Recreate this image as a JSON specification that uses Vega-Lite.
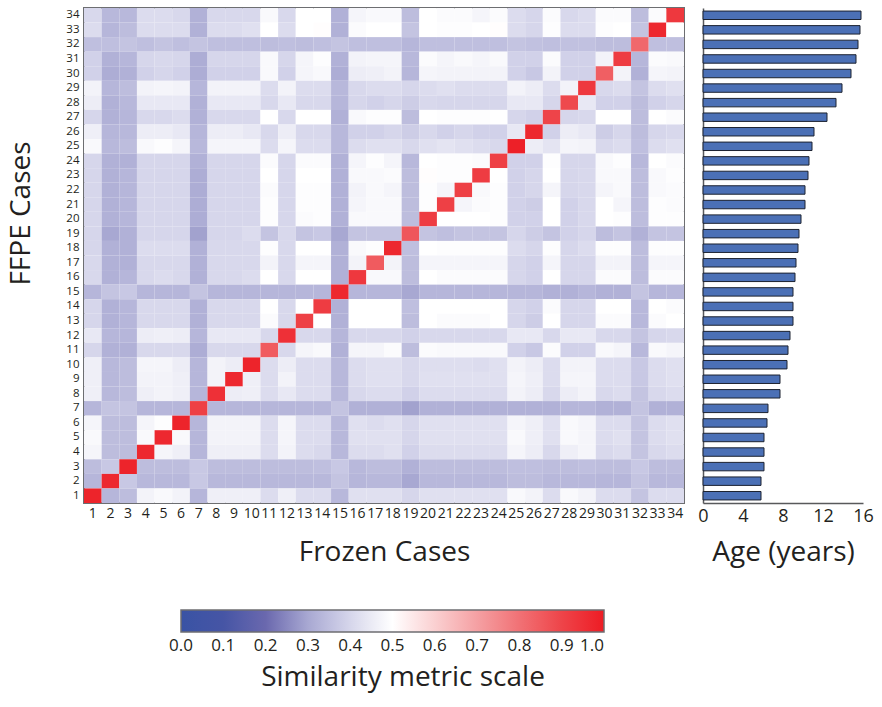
{
"$schema": "https://vega.github.io/schema/vega-lite/v6.json",
"background": "white",
"padding": {"left": 6, "top": 7, "right": 5, "bottom": 5},
"config": {
  "font": "Open Sans",
  "view": {"stroke": null},
  "axis": {"labelFont": "Open Sans", "titleFont": "Open Sans", "labelColor": "#231f20", "titleColor": "#231f20", "titleFontWeight": "normal"},
  "legend": {"labelFont": "Open Sans", "titleFont": "Open Sans", "labelColor": "#231f20", "titleColor": "#231f20"}
},
"datasets": {
"sim": [
{"r":34,"c":1,"v":0.405},{"r":34,"c":2,"v":0.335},{"r":34,"c":3,"v":0.335},{"r":34,"c":4,"v":0.415},{"r":34,"c":5,"v":0.415},{"r":34,"c":6,"v":0.405},{"r":34,"c":7,"v":0.32},{"r":34,"c":8,"v":0.405},{"r":34,"c":9,"v":0.405},{"r":34,"c":10,"v":0.405},{"r":34,"c":11,"v":0.485},{"r":34,"c":12,"v":0.405},{"r":34,"c":13,"v":0.5},{"r":34,"c":14,"v":0.5},{"r":34,"c":15,"v":0.32},{"r":34,"c":16,"v":0.475},{"r":34,"c":17,"v":0.485},{"r":34,"c":18,"v":0.485},{"r":34,"c":19,"v":0.345},{"r":34,"c":20,"v":0.5},{"r":34,"c":21,"v":0.49},{"r":34,"c":22,"v":0.49},{"r":34,"c":23,"v":0.475},{"r":34,"c":24,"v":0.49},{"r":34,"c":25,"v":0.415},{"r":34,"c":26,"v":0.4},{"r":34,"c":27,"v":0.49},{"r":34,"c":28,"v":0.405},{"r":34,"c":29,"v":0.415},{"r":34,"c":30,"v":0.49},{"r":34,"c":31,"v":0.49},{"r":34,"c":32,"v":0.345},{"r":34,"c":33,"v":0.49},{"r":34,"c":34,"v":0.93},
{"r":33,"c":1,"v":0.415},{"r":33,"c":2,"v":0.33},{"r":33,"c":3,"v":0.345},{"r":33,"c":4,"v":0.415},{"r":33,"c":5,"v":0.415},{"r":33,"c":6,"v":0.415},{"r":33,"c":7,"v":0.32},{"r":33,"c":8,"v":0.415},{"r":33,"c":9,"v":0.415},{"r":33,"c":10,"v":0.425},{"r":33,"c":11,"v":0.5},{"r":33,"c":12,"v":0.415},{"r":33,"c":13,"v":0.5},{"r":33,"c":14,"v":0.505},{"r":33,"c":15,"v":0.32},{"r":33,"c":16,"v":0.49},{"r":33,"c":17,"v":0.5},{"r":33,"c":18,"v":0.5},{"r":33,"c":19,"v":0.36},{"r":33,"c":20,"v":0.5},{"r":33,"c":21,"v":0.495},{"r":33,"c":22,"v":0.495},{"r":33,"c":23,"v":0.5},{"r":33,"c":24,"v":0.505},{"r":33,"c":25,"v":0.415},{"r":33,"c":26,"v":0.4},{"r":33,"c":27,"v":0.495},{"r":33,"c":28,"v":0.415},{"r":33,"c":29,"v":0.415},{"r":33,"c":30,"v":0.495},{"r":33,"c":31,"v":0.5},{"r":33,"c":32,"v":0.36},{"r":33,"c":33,"v":0.97},{"r":33,"c":34,"v":0.5},
{"r":32,"c":1,"v":0.35},{"r":32,"c":2,"v":0.35},{"r":32,"c":3,"v":0.36},{"r":32,"c":4,"v":0.35},{"r":32,"c":5,"v":0.36},{"r":32,"c":6,"v":0.35},{"r":32,"c":7,"v":0.36},{"r":32,"c":8,"v":0.35},{"r":32,"c":9,"v":0.35},{"r":32,"c":10,"v":0.35},{"r":32,"c":11,"v":0.345},{"r":32,"c":12,"v":0.35},{"r":32,"c":13,"v":0.345},{"r":32,"c":14,"v":0.35},{"r":32,"c":15,"v":0.36},{"r":32,"c":16,"v":0.35},{"r":32,"c":17,"v":0.35},{"r":32,"c":18,"v":0.35},{"r":32,"c":19,"v":0.33},{"r":32,"c":20,"v":0.35},{"r":32,"c":21,"v":0.35},{"r":32,"c":22,"v":0.35},{"r":32,"c":23,"v":0.35},{"r":32,"c":24,"v":0.35},{"r":32,"c":25,"v":0.36},{"r":32,"c":26,"v":0.355},{"r":32,"c":27,"v":0.35},{"r":32,"c":28,"v":0.355},{"r":32,"c":29,"v":0.355},{"r":32,"c":30,"v":0.345},{"r":32,"c":31,"v":0.345},{"r":32,"c":32,"v":0.82},{"r":32,"c":33,"v":0.35},{"r":32,"c":34,"v":0.35},
{"r":31,"c":1,"v":0.39},{"r":31,"c":2,"v":0.32},{"r":31,"c":3,"v":0.33},{"r":31,"c":4,"v":0.4},{"r":31,"c":5,"v":0.405},{"r":31,"c":6,"v":0.4},{"r":31,"c":7,"v":0.31},{"r":31,"c":8,"v":0.4},{"r":31,"c":9,"v":0.4},{"r":31,"c":10,"v":0.4},{"r":31,"c":11,"v":0.485},{"r":31,"c":12,"v":0.4},{"r":31,"c":13,"v":0.475},{"r":31,"c":14,"v":0.495},{"r":31,"c":15,"v":0.32},{"r":31,"c":16,"v":0.47},{"r":31,"c":17,"v":0.475},{"r":31,"c":18,"v":0.475},{"r":31,"c":19,"v":0.335},{"r":31,"c":20,"v":0.49},{"r":31,"c":21,"v":0.475},{"r":31,"c":22,"v":0.485},{"r":31,"c":23,"v":0.475},{"r":31,"c":24,"v":0.485},{"r":31,"c":25,"v":0.39},{"r":31,"c":26,"v":0.39},{"r":31,"c":27,"v":0.49},{"r":31,"c":28,"v":0.39},{"r":31,"c":29,"v":0.39},{"r":31,"c":30,"v":0.47},{"r":31,"c":31,"v":0.92},{"r":31,"c":32,"v":0.33},{"r":31,"c":33,"v":0.49},{"r":31,"c":34,"v":0.485},
{"r":30,"c":1,"v":0.39},{"r":30,"c":2,"v":0.31},{"r":30,"c":3,"v":0.32},{"r":30,"c":4,"v":0.39},{"r":30,"c":5,"v":0.4},{"r":30,"c":6,"v":0.39},{"r":30,"c":7,"v":0.31},{"r":30,"c":8,"v":0.39},{"r":30,"c":9,"v":0.39},{"r":30,"c":10,"v":0.39},{"r":30,"c":11,"v":0.485},{"r":30,"c":12,"v":0.39},{"r":30,"c":13,"v":0.475},{"r":30,"c":14,"v":0.485},{"r":30,"c":15,"v":0.31},{"r":30,"c":16,"v":0.455},{"r":30,"c":17,"v":0.46},{"r":30,"c":18,"v":0.47},{"r":30,"c":19,"v":0.33},{"r":30,"c":20,"v":0.475},{"r":30,"c":21,"v":0.47},{"r":30,"c":22,"v":0.47},{"r":30,"c":23,"v":0.47},{"r":30,"c":24,"v":0.47},{"r":30,"c":25,"v":0.39},{"r":30,"c":26,"v":0.37},{"r":30,"c":27,"v":0.47},{"r":30,"c":28,"v":0.39},{"r":30,"c":29,"v":0.39},{"r":30,"c":30,"v":0.84},{"r":30,"c":31,"v":0.47},{"r":30,"c":32,"v":0.32},{"r":30,"c":33,"v":0.475},{"r":30,"c":34,"v":0.47},
{"r":29,"c":1,"v":0.47},{"r":29,"c":2,"v":0.33},{"r":29,"c":3,"v":0.345},{"r":29,"c":4,"v":0.47},{"r":29,"c":5,"v":0.475},{"r":29,"c":6,"v":0.47},{"r":29,"c":7,"v":0.33},{"r":29,"c":8,"v":0.47},{"r":29,"c":9,"v":0.47},{"r":29,"c":10,"v":0.47},{"r":29,"c":11,"v":0.415},{"r":29,"c":12,"v":0.47},{"r":29,"c":13,"v":0.415},{"r":29,"c":14,"v":0.415},{"r":29,"c":15,"v":0.335},{"r":29,"c":16,"v":0.405},{"r":29,"c":17,"v":0.415},{"r":29,"c":18,"v":0.415},{"r":29,"c":19,"v":0.4},{"r":29,"c":20,"v":0.415},{"r":29,"c":21,"v":0.425},{"r":29,"c":22,"v":0.415},{"r":29,"c":23,"v":0.415},{"r":29,"c":24,"v":0.415},{"r":29,"c":25,"v":0.47},{"r":29,"c":26,"v":0.455},{"r":29,"c":27,"v":0.415},{"r":29,"c":28,"v":0.47},{"r":29,"c":29,"v":0.93},{"r":29,"c":30,"v":0.405},{"r":29,"c":31,"v":0.415},{"r":29,"c":32,"v":0.36},{"r":29,"c":33,"v":0.415},{"r":29,"c":34,"v":0.425},
{"r":28,"c":1,"v":0.455},{"r":28,"c":2,"v":0.32},{"r":28,"c":3,"v":0.335},{"r":28,"c":4,"v":0.445},{"r":28,"c":5,"v":0.445},{"r":28,"c":6,"v":0.445},{"r":28,"c":7,"v":0.32},{"r":28,"c":8,"v":0.445},{"r":28,"c":9,"v":0.445},{"r":28,"c":10,"v":0.445},{"r":28,"c":11,"v":0.405},{"r":28,"c":12,"v":0.445},{"r":28,"c":13,"v":0.405},{"r":28,"c":14,"v":0.405},{"r":28,"c":15,"v":0.33},{"r":28,"c":16,"v":0.4},{"r":28,"c":17,"v":0.39},{"r":28,"c":18,"v":0.4},{"r":28,"c":19,"v":0.38},{"r":28,"c":20,"v":0.405},{"r":28,"c":21,"v":0.4},{"r":28,"c":22,"v":0.4},{"r":28,"c":23,"v":0.4},{"r":28,"c":24,"v":0.4},{"r":28,"c":25,"v":0.445},{"r":28,"c":26,"v":0.445},{"r":28,"c":27,"v":0.4},{"r":28,"c":28,"v":0.89},{"r":28,"c":29,"v":0.445},{"r":28,"c":30,"v":0.39},{"r":28,"c":31,"v":0.39},{"r":28,"c":32,"v":0.345},{"r":28,"c":33,"v":0.39},{"r":28,"c":34,"v":0.4},
{"r":27,"c":1,"v":0.4},{"r":27,"c":2,"v":0.32},{"r":27,"c":3,"v":0.33},{"r":27,"c":4,"v":0.405},{"r":27,"c":5,"v":0.405},{"r":27,"c":6,"v":0.415},{"r":27,"c":7,"v":0.32},{"r":27,"c":8,"v":0.405},{"r":27,"c":9,"v":0.405},{"r":27,"c":10,"v":0.405},{"r":27,"c":11,"v":0.5},{"r":27,"c":12,"v":0.405},{"r":27,"c":13,"v":0.5},{"r":27,"c":14,"v":0.5},{"r":27,"c":15,"v":0.32},{"r":27,"c":16,"v":0.485},{"r":27,"c":17,"v":0.495},{"r":27,"c":18,"v":0.495},{"r":27,"c":19,"v":0.345},{"r":27,"c":20,"v":0.5},{"r":27,"c":21,"v":0.495},{"r":27,"c":22,"v":0.495},{"r":27,"c":23,"v":0.495},{"r":27,"c":24,"v":0.5},{"r":27,"c":25,"v":0.4},{"r":27,"c":26,"v":0.39},{"r":27,"c":27,"v":0.9},{"r":27,"c":28,"v":0.4},{"r":27,"c":29,"v":0.405},{"r":27,"c":30,"v":0.5},{"r":27,"c":31,"v":0.5},{"r":27,"c":32,"v":0.345},{"r":27,"c":33,"v":0.5},{"r":27,"c":34,"v":0.49},
{"r":26,"c":1,"v":0.46},{"r":26,"c":2,"v":0.33},{"r":26,"c":3,"v":0.335},{"r":26,"c":4,"v":0.455},{"r":26,"c":5,"v":0.455},{"r":26,"c":6,"v":0.445},{"r":26,"c":7,"v":0.33},{"r":26,"c":8,"v":0.455},{"r":26,"c":9,"v":0.455},{"r":26,"c":10,"v":0.445},{"r":26,"c":11,"v":0.405},{"r":26,"c":12,"v":0.455},{"r":26,"c":13,"v":0.405},{"r":26,"c":14,"v":0.405},{"r":26,"c":15,"v":0.335},{"r":26,"c":16,"v":0.39},{"r":26,"c":17,"v":0.39},{"r":26,"c":18,"v":0.4},{"r":26,"c":19,"v":0.38},{"r":26,"c":20,"v":0.405},{"r":26,"c":21,"v":0.39},{"r":26,"c":22,"v":0.4},{"r":26,"c":23,"v":0.39},{"r":26,"c":24,"v":0.39},{"r":26,"c":25,"v":0.445},{"r":26,"c":26,"v":0.97},{"r":26,"c":27,"v":0.39},{"r":26,"c":28,"v":0.455},{"r":26,"c":29,"v":0.445},{"r":26,"c":30,"v":0.38},{"r":26,"c":31,"v":0.4},{"r":26,"c":32,"v":0.345},{"r":26,"c":33,"v":0.4},{"r":26,"c":34,"v":0.405},
{"r":25,"c":1,"v":0.485},{"r":25,"c":2,"v":0.335},{"r":25,"c":3,"v":0.345},{"r":25,"c":4,"v":0.485},{"r":25,"c":5,"v":0.495},{"r":25,"c":6,"v":0.475},{"r":25,"c":7,"v":0.335},{"r":25,"c":8,"v":0.475},{"r":25,"c":9,"v":0.475},{"r":25,"c":10,"v":0.475},{"r":25,"c":11,"v":0.415},{"r":25,"c":12,"v":0.475},{"r":25,"c":13,"v":0.415},{"r":25,"c":14,"v":0.415},{"r":25,"c":15,"v":0.335},{"r":25,"c":16,"v":0.415},{"r":25,"c":17,"v":0.425},{"r":25,"c":18,"v":0.425},{"r":25,"c":19,"v":0.405},{"r":25,"c":20,"v":0.425},{"r":25,"c":21,"v":0.435},{"r":25,"c":22,"v":0.425},{"r":25,"c":23,"v":0.415},{"r":25,"c":24,"v":0.405},{"r":25,"c":25,"v":0.99},{"r":25,"c":26,"v":0.455},{"r":25,"c":27,"v":0.435},{"r":25,"c":28,"v":0.475},{"r":25,"c":29,"v":0.47},{"r":25,"c":30,"v":0.405},{"r":25,"c":31,"v":0.415},{"r":25,"c":32,"v":0.35},{"r":25,"c":33,"v":0.415},{"r":25,"c":34,"v":0.425},
{"r":24,"c":1,"v":0.4},{"r":24,"c":2,"v":0.32},{"r":24,"c":3,"v":0.32},{"r":24,"c":4,"v":0.4},{"r":24,"c":5,"v":0.4},{"r":24,"c":6,"v":0.4},{"r":24,"c":7,"v":0.32},{"r":24,"c":8,"v":0.4},{"r":24,"c":9,"v":0.4},{"r":24,"c":10,"v":0.4},{"r":24,"c":11,"v":0.49},{"r":24,"c":12,"v":0.4},{"r":24,"c":13,"v":0.49},{"r":24,"c":14,"v":0.49},{"r":24,"c":15,"v":0.32},{"r":24,"c":16,"v":0.475},{"r":24,"c":17,"v":0.495},{"r":24,"c":18,"v":0.475},{"r":24,"c":19,"v":0.335},{"r":24,"c":20,"v":0.5},{"r":24,"c":21,"v":0.495},{"r":24,"c":22,"v":0.495},{"r":24,"c":23,"v":0.49},{"r":24,"c":24,"v":0.91},{"r":24,"c":25,"v":0.39},{"r":24,"c":26,"v":0.39},{"r":24,"c":27,"v":0.495},{"r":24,"c":28,"v":0.4},{"r":24,"c":29,"v":0.4},{"r":24,"c":30,"v":0.485},{"r":24,"c":31,"v":0.495},{"r":24,"c":32,"v":0.335},{"r":24,"c":33,"v":0.5},{"r":24,"c":34,"v":0.49},
{"r":23,"c":1,"v":0.4},{"r":23,"c":2,"v":0.32},{"r":23,"c":3,"v":0.33},{"r":23,"c":4,"v":0.4},{"r":23,"c":5,"v":0.4},{"r":23,"c":6,"v":0.4},{"r":23,"c":7,"v":0.31},{"r":23,"c":8,"v":0.4},{"r":23,"c":9,"v":0.4},{"r":23,"c":10,"v":0.4},{"r":23,"c":11,"v":0.5},{"r":23,"c":12,"v":0.4},{"r":23,"c":13,"v":0.5},{"r":23,"c":14,"v":0.5},{"r":23,"c":15,"v":0.32},{"r":23,"c":16,"v":0.485},{"r":23,"c":17,"v":0.485},{"r":23,"c":18,"v":0.49},{"r":23,"c":19,"v":0.345},{"r":23,"c":20,"v":0.505},{"r":23,"c":21,"v":0.495},{"r":23,"c":22,"v":0.495},{"r":23,"c":23,"v":0.92},{"r":23,"c":24,"v":0.5},{"r":23,"c":25,"v":0.39},{"r":23,"c":26,"v":0.4},{"r":23,"c":27,"v":0.5},{"r":23,"c":28,"v":0.4},{"r":23,"c":29,"v":0.405},{"r":23,"c":30,"v":0.485},{"r":23,"c":31,"v":0.485},{"r":23,"c":32,"v":0.345},{"r":23,"c":33,"v":0.485},{"r":23,"c":34,"v":0.495},
{"r":22,"c":1,"v":0.4},{"r":22,"c":2,"v":0.32},{"r":22,"c":3,"v":0.33},{"r":22,"c":4,"v":0.4},{"r":22,"c":5,"v":0.4},{"r":22,"c":6,"v":0.4},{"r":22,"c":7,"v":0.31},{"r":22,"c":8,"v":0.4},{"r":22,"c":9,"v":0.4},{"r":22,"c":10,"v":0.4},{"r":22,"c":11,"v":0.49},{"r":22,"c":12,"v":0.4},{"r":22,"c":13,"v":0.495},{"r":22,"c":14,"v":0.495},{"r":22,"c":15,"v":0.32},{"r":22,"c":16,"v":0.47},{"r":22,"c":17,"v":0.485},{"r":22,"c":18,"v":0.475},{"r":22,"c":19,"v":0.345},{"r":22,"c":20,"v":0.495},{"r":22,"c":21,"v":0.475},{"r":22,"c":22,"v":0.91},{"r":22,"c":23,"v":0.485},{"r":22,"c":24,"v":0.495},{"r":22,"c":25,"v":0.39},{"r":22,"c":26,"v":0.4},{"r":22,"c":27,"v":0.475},{"r":22,"c":28,"v":0.4},{"r":22,"c":29,"v":0.405},{"r":22,"c":30,"v":0.475},{"r":22,"c":31,"v":0.485},{"r":22,"c":32,"v":0.345},{"r":22,"c":33,"v":0.485},{"r":22,"c":34,"v":0.49},
{"r":21,"c":1,"v":0.4},{"r":21,"c":2,"v":0.32},{"r":21,"c":3,"v":0.33},{"r":21,"c":4,"v":0.4},{"r":21,"c":5,"v":0.4},{"r":21,"c":6,"v":0.4},{"r":21,"c":7,"v":0.31},{"r":21,"c":8,"v":0.4},{"r":21,"c":9,"v":0.4},{"r":21,"c":10,"v":0.4},{"r":21,"c":11,"v":0.495},{"r":21,"c":12,"v":0.4},{"r":21,"c":13,"v":0.495},{"r":21,"c":14,"v":0.495},{"r":21,"c":15,"v":0.32},{"r":21,"c":16,"v":0.475},{"r":21,"c":17,"v":0.485},{"r":21,"c":18,"v":0.485},{"r":21,"c":19,"v":0.345},{"r":21,"c":20,"v":0.495},{"r":21,"c":21,"v":0.91},{"r":21,"c":22,"v":0.475},{"r":21,"c":23,"v":0.49},{"r":21,"c":24,"v":0.495},{"r":21,"c":25,"v":0.39},{"r":21,"c":26,"v":0.38},{"r":21,"c":27,"v":0.5},{"r":21,"c":28,"v":0.39},{"r":21,"c":29,"v":0.405},{"r":21,"c":30,"v":0.5},{"r":21,"c":31,"v":0.475},{"r":21,"c":32,"v":0.345},{"r":21,"c":33,"v":0.495},{"r":21,"c":34,"v":0.49},
{"r":20,"c":1,"v":0.4},{"r":20,"c":2,"v":0.32},{"r":20,"c":3,"v":0.33},{"r":20,"c":4,"v":0.4},{"r":20,"c":5,"v":0.4},{"r":20,"c":6,"v":0.4},{"r":20,"c":7,"v":0.31},{"r":20,"c":8,"v":0.4},{"r":20,"c":9,"v":0.4},{"r":20,"c":10,"v":0.4},{"r":20,"c":11,"v":0.495},{"r":20,"c":12,"v":0.4},{"r":20,"c":13,"v":0.49},{"r":20,"c":14,"v":0.495},{"r":20,"c":15,"v":0.32},{"r":20,"c":16,"v":0.485},{"r":20,"c":17,"v":0.485},{"r":20,"c":18,"v":0.485},{"r":20,"c":19,"v":0.345},{"r":20,"c":20,"v":0.92},{"r":20,"c":21,"v":0.5},{"r":20,"c":22,"v":0.5},{"r":20,"c":23,"v":0.5},{"r":20,"c":24,"v":0.495},{"r":20,"c":25,"v":0.39},{"r":20,"c":26,"v":0.39},{"r":20,"c":27,"v":0.5},{"r":20,"c":28,"v":0.39},{"r":20,"c":29,"v":0.405},{"r":20,"c":30,"v":0.5},{"r":20,"c":31,"v":0.495},{"r":20,"c":32,"v":0.345},{"r":20,"c":33,"v":0.495},{"r":20,"c":34,"v":0.495},
{"r":19,"c":1,"v":0.4},{"r":19,"c":2,"v":0.3},{"r":19,"c":3,"v":0.32},{"r":19,"c":4,"v":0.4},{"r":19,"c":5,"v":0.4},{"r":19,"c":6,"v":0.4},{"r":19,"c":7,"v":0.29},{"r":19,"c":8,"v":0.4},{"r":19,"c":9,"v":0.4},{"r":19,"c":10,"v":0.415},{"r":19,"c":11,"v":0.36},{"r":19,"c":12,"v":0.405},{"r":19,"c":13,"v":0.36},{"r":19,"c":14,"v":0.37},{"r":19,"c":15,"v":0.3},{"r":19,"c":16,"v":0.36},{"r":19,"c":17,"v":0.36},{"r":19,"c":18,"v":0.36},{"r":19,"c":19,"v":0.86},{"r":19,"c":20,"v":0.36},{"r":19,"c":21,"v":0.35},{"r":19,"c":22,"v":0.36},{"r":19,"c":23,"v":0.36},{"r":19,"c":24,"v":0.36},{"r":19,"c":25,"v":0.4},{"r":19,"c":26,"v":0.38},{"r":19,"c":27,"v":0.36},{"r":19,"c":28,"v":0.39},{"r":19,"c":29,"v":0.4},{"r":19,"c":30,"v":0.345},{"r":19,"c":31,"v":0.36},{"r":19,"c":32,"v":0.32},{"r":19,"c":33,"v":0.36},{"r":19,"c":34,"v":0.36},
{"r":18,"c":1,"v":0.4},{"r":18,"c":2,"v":0.32},{"r":18,"c":3,"v":0.32},{"r":18,"c":4,"v":0.415},{"r":18,"c":5,"v":0.415},{"r":18,"c":6,"v":0.415},{"r":18,"c":7,"v":0.32},{"r":18,"c":8,"v":0.405},{"r":18,"c":9,"v":0.405},{"r":18,"c":10,"v":0.405},{"r":18,"c":11,"v":0.495},{"r":18,"c":12,"v":0.405},{"r":18,"c":13,"v":0.5},{"r":18,"c":14,"v":0.5},{"r":18,"c":15,"v":0.32},{"r":18,"c":16,"v":0.485},{"r":18,"c":17,"v":0.495},{"r":18,"c":18,"v":0.97},{"r":18,"c":19,"v":0.35},{"r":18,"c":20,"v":0.5},{"r":18,"c":21,"v":0.495},{"r":18,"c":22,"v":0.495},{"r":18,"c":23,"v":0.495},{"r":18,"c":24,"v":0.495},{"r":18,"c":25,"v":0.415},{"r":18,"c":26,"v":0.4},{"r":18,"c":27,"v":0.495},{"r":18,"c":28,"v":0.4},{"r":18,"c":29,"v":0.415},{"r":18,"c":30,"v":0.495},{"r":18,"c":31,"v":0.495},{"r":18,"c":32,"v":0.345},{"r":18,"c":33,"v":0.495},{"r":18,"c":34,"v":0.495},
{"r":17,"c":1,"v":0.405},{"r":17,"c":2,"v":0.32},{"r":17,"c":3,"v":0.32},{"r":17,"c":4,"v":0.405},{"r":17,"c":5,"v":0.405},{"r":17,"c":6,"v":0.405},{"r":17,"c":7,"v":0.32},{"r":17,"c":8,"v":0.405},{"r":17,"c":9,"v":0.405},{"r":17,"c":10,"v":0.405},{"r":17,"c":11,"v":0.47},{"r":17,"c":12,"v":0.405},{"r":17,"c":13,"v":0.475},{"r":17,"c":14,"v":0.475},{"r":17,"c":15,"v":0.32},{"r":17,"c":16,"v":0.47},{"r":17,"c":17,"v":0.85},{"r":17,"c":18,"v":0.47},{"r":17,"c":19,"v":0.345},{"r":17,"c":20,"v":0.475},{"r":17,"c":21,"v":0.475},{"r":17,"c":22,"v":0.475},{"r":17,"c":23,"v":0.475},{"r":17,"c":24,"v":0.475},{"r":17,"c":25,"v":0.4},{"r":17,"c":26,"v":0.39},{"r":17,"c":27,"v":0.475},{"r":17,"c":28,"v":0.4},{"r":17,"c":29,"v":0.4},{"r":17,"c":30,"v":0.47},{"r":17,"c":31,"v":0.47},{"r":17,"c":32,"v":0.345},{"r":17,"c":33,"v":0.475},{"r":17,"c":34,"v":0.475},
{"r":16,"c":1,"v":0.405},{"r":16,"c":2,"v":0.32},{"r":16,"c":3,"v":0.33},{"r":16,"c":4,"v":0.405},{"r":16,"c":5,"v":0.415},{"r":16,"c":6,"v":0.405},{"r":16,"c":7,"v":0.32},{"r":16,"c":8,"v":0.405},{"r":16,"c":9,"v":0.405},{"r":16,"c":10,"v":0.415},{"r":16,"c":11,"v":0.5},{"r":16,"c":12,"v":0.405},{"r":16,"c":13,"v":0.5},{"r":16,"c":14,"v":0.5},{"r":16,"c":15,"v":0.32},{"r":16,"c":16,"v":0.93},{"r":16,"c":17,"v":0.485},{"r":16,"c":18,"v":0.485},{"r":16,"c":19,"v":0.345},{"r":16,"c":20,"v":0.5},{"r":16,"c":21,"v":0.49},{"r":16,"c":22,"v":0.49},{"r":16,"c":23,"v":0.49},{"r":16,"c":24,"v":0.49},{"r":16,"c":25,"v":0.4},{"r":16,"c":26,"v":0.39},{"r":16,"c":27,"v":0.5},{"r":16,"c":28,"v":0.4},{"r":16,"c":29,"v":0.4},{"r":16,"c":30,"v":0.49},{"r":16,"c":31,"v":0.49},{"r":16,"c":32,"v":0.345},{"r":16,"c":33,"v":0.49},{"r":16,"c":34,"v":0.49},
{"r":15,"c":1,"v":0.33},{"r":15,"c":2,"v":0.36},{"r":15,"c":3,"v":0.37},{"r":15,"c":4,"v":0.33},{"r":15,"c":5,"v":0.33},{"r":15,"c":6,"v":0.33},{"r":15,"c":7,"v":0.36},{"r":15,"c":8,"v":0.33},{"r":15,"c":9,"v":0.33},{"r":15,"c":10,"v":0.33},{"r":15,"c":11,"v":0.33},{"r":15,"c":12,"v":0.33},{"r":15,"c":13,"v":0.33},{"r":15,"c":14,"v":0.33},{"r":15,"c":15,"v":0.97},{"r":15,"c":16,"v":0.33},{"r":15,"c":17,"v":0.33},{"r":15,"c":18,"v":0.33},{"r":15,"c":19,"v":0.3},{"r":15,"c":20,"v":0.33},{"r":15,"c":21,"v":0.33},{"r":15,"c":22,"v":0.33},{"r":15,"c":23,"v":0.33},{"r":15,"c":24,"v":0.33},{"r":15,"c":25,"v":0.33},{"r":15,"c":26,"v":0.33},{"r":15,"c":27,"v":0.32},{"r":15,"c":28,"v":0.32},{"r":15,"c":29,"v":0.33},{"r":15,"c":30,"v":0.32},{"r":15,"c":31,"v":0.32},{"r":15,"c":32,"v":0.36},{"r":15,"c":33,"v":0.33},{"r":15,"c":34,"v":0.33},
{"r":14,"c":1,"v":0.4},{"r":14,"c":2,"v":0.32},{"r":14,"c":3,"v":0.33},{"r":14,"c":4,"v":0.405},{"r":14,"c":5,"v":0.405},{"r":14,"c":6,"v":0.405},{"r":14,"c":7,"v":0.32},{"r":14,"c":8,"v":0.405},{"r":14,"c":9,"v":0.405},{"r":14,"c":10,"v":0.405},{"r":14,"c":11,"v":0.5},{"r":14,"c":12,"v":0.405},{"r":14,"c":13,"v":0.5},{"r":14,"c":14,"v":0.92},{"r":14,"c":15,"v":0.32},{"r":14,"c":16,"v":0.5},{"r":14,"c":17,"v":0.5},{"r":14,"c":18,"v":0.5},{"r":14,"c":19,"v":0.35},{"r":14,"c":20,"v":0.5},{"r":14,"c":21,"v":0.5},{"r":14,"c":22,"v":0.5},{"r":14,"c":23,"v":0.5},{"r":14,"c":24,"v":0.5},{"r":14,"c":25,"v":0.4},{"r":14,"c":26,"v":0.39},{"r":14,"c":27,"v":0.49},{"r":14,"c":28,"v":0.4},{"r":14,"c":29,"v":0.4},{"r":14,"c":30,"v":0.5},{"r":14,"c":31,"v":0.5},{"r":14,"c":32,"v":0.335},{"r":14,"c":33,"v":0.5},{"r":14,"c":34,"v":0.49},
{"r":13,"c":1,"v":0.4},{"r":13,"c":2,"v":0.32},{"r":13,"c":3,"v":0.33},{"r":13,"c":4,"v":0.405},{"r":13,"c":5,"v":0.405},{"r":13,"c":6,"v":0.405},{"r":13,"c":7,"v":0.32},{"r":13,"c":8,"v":0.405},{"r":13,"c":9,"v":0.405},{"r":13,"c":10,"v":0.405},{"r":13,"c":11,"v":0.49},{"r":13,"c":12,"v":0.405},{"r":13,"c":13,"v":0.91},{"r":13,"c":14,"v":0.5},{"r":13,"c":15,"v":0.32},{"r":13,"c":16,"v":0.5},{"r":13,"c":17,"v":0.5},{"r":13,"c":18,"v":0.5},{"r":13,"c":19,"v":0.345},{"r":13,"c":20,"v":0.5},{"r":13,"c":21,"v":0.49},{"r":13,"c":22,"v":0.49},{"r":13,"c":23,"v":0.49},{"r":13,"c":24,"v":0.5},{"r":13,"c":25,"v":0.4},{"r":13,"c":26,"v":0.38},{"r":13,"c":27,"v":0.5},{"r":13,"c":28,"v":0.4},{"r":13,"c":29,"v":0.4},{"r":13,"c":30,"v":0.49},{"r":13,"c":31,"v":0.49},{"r":13,"c":32,"v":0.335},{"r":13,"c":33,"v":0.49},{"r":13,"c":34,"v":0.5},
{"r":12,"c":1,"v":0.445},{"r":12,"c":2,"v":0.33},{"r":12,"c":3,"v":0.33},{"r":12,"c":4,"v":0.455},{"r":12,"c":5,"v":0.46},{"r":12,"c":6,"v":0.455},{"r":12,"c":7,"v":0.33},{"r":12,"c":8,"v":0.445},{"r":12,"c":9,"v":0.445},{"r":12,"c":10,"v":0.445},{"r":12,"c":11,"v":0.405},{"r":12,"c":12,"v":0.95},{"r":12,"c":13,"v":0.405},{"r":12,"c":14,"v":0.405},{"r":12,"c":15,"v":0.33},{"r":12,"c":16,"v":0.405},{"r":12,"c":17,"v":0.405},{"r":12,"c":18,"v":0.405},{"r":12,"c":19,"v":0.39},{"r":12,"c":20,"v":0.405},{"r":12,"c":21,"v":0.405},{"r":12,"c":22,"v":0.405},{"r":12,"c":23,"v":0.405},{"r":12,"c":24,"v":0.405},{"r":12,"c":25,"v":0.445},{"r":12,"c":26,"v":0.445},{"r":12,"c":27,"v":0.405},{"r":12,"c":28,"v":0.445},{"r":12,"c":29,"v":0.445},{"r":12,"c":30,"v":0.405},{"r":12,"c":31,"v":0.405},{"r":12,"c":32,"v":0.36},{"r":12,"c":33,"v":0.4},{"r":12,"c":34,"v":0.405},
{"r":11,"c":1,"v":0.4},{"r":11,"c":2,"v":0.32},{"r":11,"c":3,"v":0.32},{"r":11,"c":4,"v":0.405},{"r":11,"c":5,"v":0.405},{"r":11,"c":6,"v":0.405},{"r":11,"c":7,"v":0.31},{"r":11,"c":8,"v":0.405},{"r":11,"c":9,"v":0.405},{"r":11,"c":10,"v":0.405},{"r":11,"c":11,"v":0.85},{"r":11,"c":12,"v":0.405},{"r":11,"c":13,"v":0.475},{"r":11,"c":14,"v":0.485},{"r":11,"c":15,"v":0.32},{"r":11,"c":16,"v":0.475},{"r":11,"c":17,"v":0.475},{"r":11,"c":18,"v":0.49},{"r":11,"c":19,"v":0.345},{"r":11,"c":20,"v":0.49},{"r":11,"c":21,"v":0.485},{"r":11,"c":22,"v":0.485},{"r":11,"c":23,"v":0.485},{"r":11,"c":24,"v":0.485},{"r":11,"c":25,"v":0.39},{"r":11,"c":26,"v":0.37},{"r":11,"c":27,"v":0.49},{"r":11,"c":28,"v":0.39},{"r":11,"c":29,"v":0.39},{"r":11,"c":30,"v":0.485},{"r":11,"c":31,"v":0.475},{"r":11,"c":32,"v":0.335},{"r":11,"c":33,"v":0.485},{"r":11,"c":34,"v":0.475},
{"r":10,"c":1,"v":0.46},{"r":10,"c":2,"v":0.335},{"r":10,"c":3,"v":0.345},{"r":10,"c":4,"v":0.475},{"r":10,"c":5,"v":0.475},{"r":10,"c":6,"v":0.455},{"r":10,"c":7,"v":0.33},{"r":10,"c":8,"v":0.47},{"r":10,"c":9,"v":0.455},{"r":10,"c":10,"v":0.98},{"r":10,"c":11,"v":0.415},{"r":10,"c":12,"v":0.455},{"r":10,"c":13,"v":0.415},{"r":10,"c":14,"v":0.415},{"r":10,"c":15,"v":0.335},{"r":10,"c":16,"v":0.415},{"r":10,"c":17,"v":0.425},{"r":10,"c":18,"v":0.425},{"r":10,"c":19,"v":0.405},{"r":10,"c":20,"v":0.42},{"r":10,"c":21,"v":0.42},{"r":10,"c":22,"v":0.42},{"r":10,"c":23,"v":0.415},{"r":10,"c":24,"v":0.425},{"r":10,"c":25,"v":0.47},{"r":10,"c":26,"v":0.455},{"r":10,"c":27,"v":0.415},{"r":10,"c":28,"v":0.47},{"r":10,"c":29,"v":0.47},{"r":10,"c":30,"v":0.415},{"r":10,"c":31,"v":0.415},{"r":10,"c":32,"v":0.37},{"r":10,"c":33,"v":0.415},{"r":10,"c":34,"v":0.425},
{"r":9,"c":1,"v":0.46},{"r":9,"c":2,"v":0.335},{"r":9,"c":3,"v":0.345},{"r":9,"c":4,"v":0.47},{"r":9,"c":5,"v":0.47},{"r":9,"c":6,"v":0.46},{"r":9,"c":7,"v":0.33},{"r":9,"c":8,"v":0.47},{"r":9,"c":9,"v":0.97},{"r":9,"c":10,"v":0.46},{"r":9,"c":11,"v":0.415},{"r":9,"c":12,"v":0.47},{"r":9,"c":13,"v":0.415},{"r":9,"c":14,"v":0.415},{"r":9,"c":15,"v":0.335},{"r":9,"c":16,"v":0.415},{"r":9,"c":17,"v":0.425},{"r":9,"c":18,"v":0.425},{"r":9,"c":19,"v":0.405},{"r":9,"c":20,"v":0.425},{"r":9,"c":21,"v":0.425},{"r":9,"c":22,"v":0.425},{"r":9,"c":23,"v":0.425},{"r":9,"c":24,"v":0.425},{"r":9,"c":25,"v":0.475},{"r":9,"c":26,"v":0.46},{"r":9,"c":27,"v":0.415},{"r":9,"c":28,"v":0.475},{"r":9,"c":29,"v":0.475},{"r":9,"c":30,"v":0.415},{"r":9,"c":31,"v":0.415},{"r":9,"c":32,"v":0.37},{"r":9,"c":33,"v":0.415},{"r":9,"c":34,"v":0.425},
{"r":8,"c":1,"v":0.46},{"r":8,"c":2,"v":0.335},{"r":8,"c":3,"v":0.345},{"r":8,"c":4,"v":0.46},{"r":8,"c":5,"v":0.47},{"r":8,"c":6,"v":0.46},{"r":8,"c":7,"v":0.33},{"r":8,"c":8,"v":0.95},{"r":8,"c":9,"v":0.455},{"r":8,"c":10,"v":0.46},{"r":8,"c":11,"v":0.415},{"r":8,"c":12,"v":0.445},{"r":8,"c":13,"v":0.415},{"r":8,"c":14,"v":0.415},{"r":8,"c":15,"v":0.335},{"r":8,"c":16,"v":0.405},{"r":8,"c":17,"v":0.415},{"r":8,"c":18,"v":0.415},{"r":8,"c":19,"v":0.39},{"r":8,"c":20,"v":0.415},{"r":8,"c":21,"v":0.415},{"r":8,"c":22,"v":0.415},{"r":8,"c":23,"v":0.415},{"r":8,"c":24,"v":0.415},{"r":8,"c":25,"v":0.47},{"r":8,"c":26,"v":0.455},{"r":8,"c":27,"v":0.405},{"r":8,"c":28,"v":0.455},{"r":8,"c":29,"v":0.47},{"r":8,"c":30,"v":0.405},{"r":8,"c":31,"v":0.415},{"r":8,"c":32,"v":0.36},{"r":8,"c":33,"v":0.405},{"r":8,"c":34,"v":0.415},
{"r":7,"c":1,"v":0.33},{"r":7,"c":2,"v":0.36},{"r":7,"c":3,"v":0.36},{"r":7,"c":4,"v":0.33},{"r":7,"c":5,"v":0.33},{"r":7,"c":6,"v":0.33},{"r":7,"c":7,"v":0.91},{"r":7,"c":8,"v":0.33},{"r":7,"c":9,"v":0.33},{"r":7,"c":10,"v":0.33},{"r":7,"c":11,"v":0.33},{"r":7,"c":12,"v":0.33},{"r":7,"c":13,"v":0.33},{"r":7,"c":14,"v":0.33},{"r":7,"c":15,"v":0.36},{"r":7,"c":16,"v":0.32},{"r":7,"c":17,"v":0.32},{"r":7,"c":18,"v":0.32},{"r":7,"c":19,"v":0.29},{"r":7,"c":20,"v":0.32},{"r":7,"c":21,"v":0.32},{"r":7,"c":22,"v":0.32},{"r":7,"c":23,"v":0.32},{"r":7,"c":24,"v":0.32},{"r":7,"c":25,"v":0.32},{"r":7,"c":26,"v":0.32},{"r":7,"c":27,"v":0.32},{"r":7,"c":28,"v":0.33},{"r":7,"c":29,"v":0.33},{"r":7,"c":30,"v":0.32},{"r":7,"c":31,"v":0.32},{"r":7,"c":32,"v":0.36},{"r":7,"c":33,"v":0.32},{"r":7,"c":34,"v":0.32},
{"r":6,"c":1,"v":0.475},{"r":6,"c":2,"v":0.345},{"r":6,"c":3,"v":0.345},{"r":6,"c":4,"v":0.475},{"r":6,"c":5,"v":0.495},{"r":6,"c":6,"v":0.98},{"r":6,"c":7,"v":0.33},{"r":6,"c":8,"v":0.47},{"r":6,"c":9,"v":0.47},{"r":6,"c":10,"v":0.47},{"r":6,"c":11,"v":0.415},{"r":6,"c":12,"v":0.475},{"r":6,"c":13,"v":0.415},{"r":6,"c":14,"v":0.415},{"r":6,"c":15,"v":0.335},{"r":6,"c":16,"v":0.425},{"r":6,"c":17,"v":0.415},{"r":6,"c":18,"v":0.425},{"r":6,"c":19,"v":0.4},{"r":6,"c":20,"v":0.425},{"r":6,"c":21,"v":0.425},{"r":6,"c":22,"v":0.425},{"r":6,"c":23,"v":0.425},{"r":6,"c":24,"v":0.425},{"r":6,"c":25,"v":0.475},{"r":6,"c":26,"v":0.46},{"r":6,"c":27,"v":0.425},{"r":6,"c":28,"v":0.485},{"r":6,"c":29,"v":0.475},{"r":6,"c":30,"v":0.415},{"r":6,"c":31,"v":0.415},{"r":6,"c":32,"v":0.36},{"r":6,"c":33,"v":0.415},{"r":6,"c":34,"v":0.425},
{"r":5,"c":1,"v":0.485},{"r":5,"c":2,"v":0.345},{"r":5,"c":3,"v":0.345},{"r":5,"c":4,"v":0.485},{"r":5,"c":5,"v":0.97},{"r":5,"c":6,"v":0.485},{"r":5,"c":7,"v":0.33},{"r":5,"c":8,"v":0.47},{"r":5,"c":9,"v":0.47},{"r":5,"c":10,"v":0.47},{"r":5,"c":11,"v":0.415},{"r":5,"c":12,"v":0.475},{"r":5,"c":13,"v":0.415},{"r":5,"c":14,"v":0.415},{"r":5,"c":15,"v":0.335},{"r":5,"c":16,"v":0.425},{"r":5,"c":17,"v":0.425},{"r":5,"c":18,"v":0.425},{"r":5,"c":19,"v":0.4},{"r":5,"c":20,"v":0.425},{"r":5,"c":21,"v":0.425},{"r":5,"c":22,"v":0.425},{"r":5,"c":23,"v":0.425},{"r":5,"c":24,"v":0.425},{"r":5,"c":25,"v":0.485},{"r":5,"c":26,"v":0.46},{"r":5,"c":27,"v":0.425},{"r":5,"c":28,"v":0.485},{"r":5,"c":29,"v":0.475},{"r":5,"c":30,"v":0.415},{"r":5,"c":31,"v":0.425},{"r":5,"c":32,"v":0.36},{"r":5,"c":33,"v":0.415},{"r":5,"c":34,"v":0.425},
{"r":4,"c":1,"v":0.475},{"r":4,"c":2,"v":0.345},{"r":4,"c":3,"v":0.345},{"r":4,"c":4,"v":0.97},{"r":4,"c":5,"v":0.475},{"r":4,"c":6,"v":0.46},{"r":4,"c":7,"v":0.33},{"r":4,"c":8,"v":0.46},{"r":4,"c":9,"v":0.46},{"r":4,"c":10,"v":0.46},{"r":4,"c":11,"v":0.415},{"r":4,"c":12,"v":0.47},{"r":4,"c":13,"v":0.415},{"r":4,"c":14,"v":0.405},{"r":4,"c":15,"v":0.335},{"r":4,"c":16,"v":0.415},{"r":4,"c":17,"v":0.415},{"r":4,"c":18,"v":0.425},{"r":4,"c":19,"v":0.39},{"r":4,"c":20,"v":0.415},{"r":4,"c":21,"v":0.415},{"r":4,"c":22,"v":0.415},{"r":4,"c":23,"v":0.415},{"r":4,"c":24,"v":0.415},{"r":4,"c":25,"v":0.475},{"r":4,"c":26,"v":0.455},{"r":4,"c":27,"v":0.405},{"r":4,"c":28,"v":0.46},{"r":4,"c":29,"v":0.475},{"r":4,"c":30,"v":0.405},{"r":4,"c":31,"v":0.415},{"r":4,"c":32,"v":0.36},{"r":4,"c":33,"v":0.405},{"r":4,"c":34,"v":0.415},
{"r":3,"c":1,"v":0.345},{"r":3,"c":2,"v":0.37},{"r":3,"c":3,"v":0.98},{"r":3,"c":4,"v":0.345},{"r":3,"c":5,"v":0.345},{"r":3,"c":6,"v":0.345},{"r":3,"c":7,"v":0.37},{"r":3,"c":8,"v":0.345},{"r":3,"c":9,"v":0.345},{"r":3,"c":10,"v":0.345},{"r":3,"c":11,"v":0.345},{"r":3,"c":12,"v":0.345},{"r":3,"c":13,"v":0.345},{"r":3,"c":14,"v":0.35},{"r":3,"c":15,"v":0.37},{"r":3,"c":16,"v":0.335},{"r":3,"c":17,"v":0.345},{"r":3,"c":18,"v":0.345},{"r":3,"c":19,"v":0.32},{"r":3,"c":20,"v":0.345},{"r":3,"c":21,"v":0.345},{"r":3,"c":22,"v":0.345},{"r":3,"c":23,"v":0.345},{"r":3,"c":24,"v":0.345},{"r":3,"c":25,"v":0.35},{"r":3,"c":26,"v":0.35},{"r":3,"c":27,"v":0.345},{"r":3,"c":28,"v":0.345},{"r":3,"c":29,"v":0.35},{"r":3,"c":30,"v":0.345},{"r":3,"c":31,"v":0.345},{"r":3,"c":32,"v":0.37},{"r":3,"c":33,"v":0.345},{"r":3,"c":34,"v":0.345},
{"r":2,"c":1,"v":0.33},{"r":2,"c":2,"v":0.97},{"r":2,"c":3,"v":0.37},{"r":2,"c":4,"v":0.335},{"r":2,"c":5,"v":0.335},{"r":2,"c":6,"v":0.335},{"r":2,"c":7,"v":0.37},{"r":2,"c":8,"v":0.335},{"r":2,"c":9,"v":0.335},{"r":2,"c":10,"v":0.335},{"r":2,"c":11,"v":0.335},{"r":2,"c":12,"v":0.335},{"r":2,"c":13,"v":0.335},{"r":2,"c":14,"v":0.335},{"r":2,"c":15,"v":0.36},{"r":2,"c":16,"v":0.33},{"r":2,"c":17,"v":0.335},{"r":2,"c":18,"v":0.335},{"r":2,"c":19,"v":0.3},{"r":2,"c":20,"v":0.335},{"r":2,"c":21,"v":0.335},{"r":2,"c":22,"v":0.335},{"r":2,"c":23,"v":0.335},{"r":2,"c":24,"v":0.335},{"r":2,"c":25,"v":0.345},{"r":2,"c":26,"v":0.345},{"r":2,"c":27,"v":0.335},{"r":2,"c":28,"v":0.335},{"r":2,"c":29,"v":0.335},{"r":2,"c":30,"v":0.33},{"r":2,"c":31,"v":0.33},{"r":2,"c":32,"v":0.36},{"r":2,"c":33,"v":0.335},{"r":2,"c":34,"v":0.335},
{"r":1,"c":1,"v":0.98},{"r":1,"c":2,"v":0.33},{"r":1,"c":3,"v":0.345},{"r":1,"c":4,"v":0.47},{"r":1,"c":5,"v":0.485},{"r":1,"c":6,"v":0.47},{"r":1,"c":7,"v":0.33},{"r":1,"c":8,"v":0.46},{"r":1,"c":9,"v":0.46},{"r":1,"c":10,"v":0.46},{"r":1,"c":11,"v":0.415},{"r":1,"c":12,"v":0.46},{"r":1,"c":13,"v":0.415},{"r":1,"c":14,"v":0.415},{"r":1,"c":15,"v":0.335},{"r":1,"c":16,"v":0.425},{"r":1,"c":17,"v":0.425},{"r":1,"c":18,"v":0.425},{"r":1,"c":19,"v":0.4},{"r":1,"c":20,"v":0.425},{"r":1,"c":21,"v":0.425},{"r":1,"c":22,"v":0.425},{"r":1,"c":23,"v":0.425},{"r":1,"c":24,"v":0.425},{"r":1,"c":25,"v":0.485},{"r":1,"c":26,"v":0.47},{"r":1,"c":27,"v":0.415},{"r":1,"c":28,"v":0.485},{"r":1,"c":29,"v":0.47},{"r":1,"c":30,"v":0.415},{"r":1,"c":31,"v":0.415},{"r":1,"c":32,"v":0.36},{"r":1,"c":33,"v":0.415},{"r":1,"c":34,"v":0.415}
],
"age": [
{"r":1,"age":5.8},{"r":2,"age":5.8},{"r":3,"age":6.1},{"r":4,"age":6.1},{"r":5,"age":6.1},{"r":6,"age":6.4},{"r":7,"age":6.5},{"r":8,"age":7.7},{"r":9,"age":7.7},{"r":10,"age":8.4},{"r":11,"age":8.5},{"r":12,"age":8.7},{"r":13,"age":9.0},{"r":14,"age":9.0},{"r":15,"age":9.0},{"r":16,"age":9.2},{"r":17,"age":9.3},{"r":18,"age":9.5},{"r":19,"age":9.6},{"r":20,"age":9.8},{"r":21,"age":10.2},{"r":22,"age":10.2},{"r":23,"age":10.5},{"r":24,"age":10.6},{"r":25,"age":10.9},{"r":26,"age":11.1},{"r":27,"age":12.4},{"r":28,"age":13.3},{"r":29,"age":13.9},{"r":30,"age":14.8},{"r":31,"age":15.3},{"r":32,"age":15.5},{"r":33,"age":15.7},{"r":34,"age":15.8}
]
},
"spacing": 12,
"resolve": {"scale": {"x": "independent", "y": "independent"}},
"hconcat": [
{
  "width": 600,
  "height": 495,
  "view": {"stroke": "#6d6e71", "strokeWidth": 2},
  "data": {"name": "sim"},
  "mark": {"type": "rect"},
  "encoding": {
    "x": {"field": "c", "type": "ordinal", "sort": "ascending",
      "axis": {"title": "Frozen Cases", "labelAngle": 0, "ticks": false, "domain": false, "labelFontSize": 14, "labelPadding": 3, "labelOverlap": false, "titleFontSize": 28, "titleY": 57, "titleBaseline": "alphabetic"}},
    "y": {"field": "r", "type": "ordinal", "sort": "descending",
      "axis": {"title": "FFPE Cases", "ticks": false, "domain": false, "labelFontSize": 11.5, "labelPadding": 5, "labelOverlap": false, "titleFontSize": 28, "titleX": -55, "titleY": 205, "titleBaseline": "alphabetic", "titleAlign": "center"}},
    "color": {"field": "v", "type": "quantitative",
      "scale": {"domain": [0, 0.1, 0.2, 0.3, 0.4, 0.5, 0.6, 0.7, 0.8, 0.9, 1], "range": ["#3953a4", "#4655a5", "#6a68ae", "#a8a8d2", "#d6d6eb", "#ffffff", "#fad0d1", "#f5a0a3", "#f17175", "#ee4449", "#ed1c24"], "interpolate": "rgb"},
      "legend": {"orient": "none", "legendX": 97, "legendY": 602, "direction": "horizontal", "gradientLength": 423, "gradientThickness": 22, "gradientStrokeColor": "#6d6e71", "gradientStrokeWidth": 1.5, "values": [0, 0.1, 0.2, 0.3, 0.4, 0.5, 0.6, 0.7, 0.8, 0.9, 1], "format": ".1f", "labelFontSize": 17, "labelOffset": 6, "labelOverlap": false, "title": "Similarity metric scale", "titleOrient": "bottom", "titleFontSize": 28, "titleFontWeight": "normal", "titleAnchor": "middle", "titlePadding": 10, "titleLimit": 1000, "padding": 0,
        "encode": {"labels": {"update": {"align": {"signal": "datum.value >= 1 ? 'right' : 'center'"}}}, "title": {"update": {"dx": {"value": 10}}}}}}
  }
},
{
  "width": 160,
  "height": 495,
  "data": {"name": "age"},
  "mark": {"type": "bar", "fill": "#4b70b6", "stroke": "#1c2230", "strokeWidth": 1},
  "encoding": {
    "y": {"field": "r", "type": "ordinal", "sort": "descending",
      "scale": {"paddingInner": 0.42, "paddingOuter": 0.21},
      "axis": {"title": null, "labels": false, "ticks": false, "domain": true, "domainColor": "#58595b", "domainWidth": 1.5}},
    "x": {"field": "age", "type": "quantitative", "scale": {"domain": [0, 16], "nice": false},
      "axis": {"title": "Age (years)", "values": [0, 4, 8, 12, 16], "grid": false, "ticks": false, "labelFontSize": 18, "labelFlush": false, "labelPadding": 4, "domainColor": "#58595b", "domainWidth": 1.5, "titleFontSize": 28, "titleY": 57, "titleBaseline": "alphabetic"}}
  }
}
]
}
